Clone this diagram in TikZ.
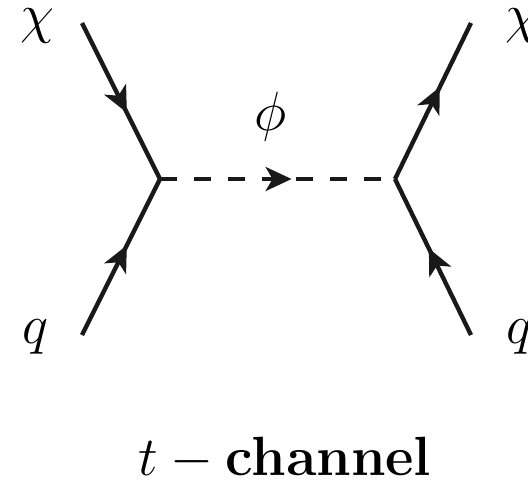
\documentclass[tikz,border=0pt]{standalone}
\usepackage{xcolor}
\usetikzlibrary{arrows.meta, decorations.markings}

\begin{document}
\begin{tikzpicture}[
  x=0.025cm, y=-0.025cm,
  fermion/.style={line width=3.1pt, color=black!90, postaction={decorate}, decoration={markings,
      mark=at position #1 with {\arrow{Stealth[length=26*0.025cm, width=24*0.025cm, inset=7*0.025cm]}}}},
  scalar/.style={fermion=#1, line width=2.9pt, dash pattern=on 17*0.025cm off 17*0.025cm},
  lab/.style={inner sep=0pt, scale=1.58, font=\fontsize{30}{30}\selectfont}
]
\useasboundingbox (0,0) rectangle (528,488);
\coordinate (vl) at (160,179);
\coordinate (vr) at (395,179);
\coordinate (chia) at (82,23);
\coordinate (qa) at (82,335);
\coordinate (chib) at (471,23);
\coordinate (qb) at (471,335);

\draw[fermion=0.575] (chia) -- (vl);
\draw[fermion=0.575] (qa)   -- (vl);
\draw[fermion=0.59]  (vr)   -- (chib);
\draw[fermion=0.555] (qb)   -- (vr);
\draw[scalar=0.56]   (vl)   -- (vr);

\node[lab] (lchia) at (37,26)  {$\chi$};
\node[lab] (lqa)   at (35,337) {$q$};
\node[lab] (lchib) at (522,26) {$\chi$};
\node[lab] (lqb)   at (519,337) {$q$};
\node[lab] (lphi)  at (271,117) {$\phi$};
\node[lab] (ltitle) at (285,459) {$t-\mathbf{channel}$};
\end{tikzpicture}
\end{document}
